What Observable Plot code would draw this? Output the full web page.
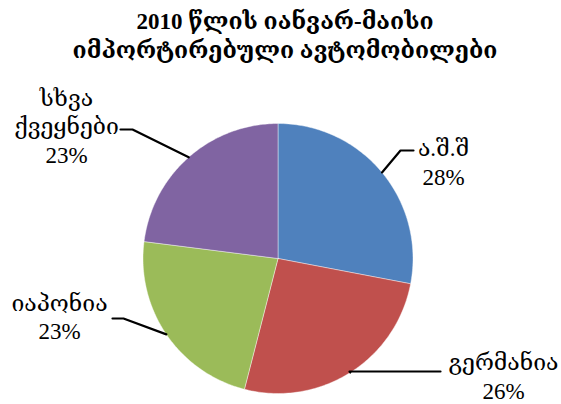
<!DOCTYPE html>
<html><head><meta charset="utf-8">
<script src="https://cdn.jsdelivr.net/npm/d3@7"></script>
<script src="https://cdn.jsdelivr.net/npm/@observablehq/plot@0.6"></script>
<style>
body{margin:0;background:#fff}
#chart svg{display:block}
</style>
</head><body><div id="chart"></div>
<script>
const titleLines = ["2010 წლის იანვარ-მაისი", "იმპორტირებული ავტომობილები"];
const categories = ["ა.შ.შ", "გერმანია", "იაპონია", "სხვა\nქვეყნები"];
const shares = [28, 26, 23, 23];
const colors = ["#4F81BD", "#C0504D", "#9BBB59", "#8064A2"];

// layout (pixels relative to the pie centre)
const R = 135;
const FONT = "'Liberation Serif', 'DejaVu Serif', 'DejaVu Sans', serif";
const elbows = [[122.5, -108], [71.5, 113], [-154.5, 60], [-145.5, -129]];
const ends = [[135.5, -108], [162.5, 113], [-165.5, 60], [-157.5, -129]];
const labelPos = [[165.5, -97], [225.5, 117], [-218.5, 57.5], [-211.5, -133]];

const arcs = d3.pie().sort(null).value(d => d)(shares);
const slicePts = [];
arcs.forEach((a, i) => {
  const name = categories[i];
  slicePts.push({name, x: 0, y: 0});
  const n = 90;
  for (let k = 0; k <= n; k++) {
    const t = a.startAngle + (a.endAngle - a.startAngle) * k / n;
    slicePts.push({name, x: R * Math.sin(t), y: -R * Math.cos(t)});
  }
  slicePts.push({name, x: 0, y: 0});
});

const leaders = [];
arcs.forEach((a, i) => {
  const m = (a.startAngle + a.endAngle) / 2;
  leaders.push({name: categories[i], x: R * Math.sin(m), y: -R * Math.cos(m)});
  leaders.push({name: categories[i], x: elbows[i][0], y: elbows[i][1]});
  leaders.push({name: categories[i], x: ends[i][0], y: ends[i][1]});
});

const labels = categories.map((c, i) => ({
  text: c + "\n" + shares[i] + "%",
  x: labelPos[i][0], y: labelPos[i][1]
}));

const chart = Plot.plot({
  width: 561, height: 404,
  margin: 0,
  style: {fontFamily: FONT, background: "white"},
  x: {domain: [-277.5, 283.5], axis: null},
  y: {domain: [-258, 146], reverse: true, axis: null},
  color: {domain: categories, range: colors},
  marks: [
    Plot.line(slicePts, {x: "x", y: "y", z: "name", fill: "name", stroke: "white", strokeWidth: 0.7, strokeOpacity: 0.6, curve: "linear"}),
    Plot.line(leaders, {x: "x", y: "y", z: "name", stroke: "black", strokeWidth: 2.2, curve: "linear"}),
    Plot.text(labels, {x: "x", y: "y", text: "text", fontSize: 23, fontFamily: FONT, lineHeight: 1.22, textAnchor: "middle", lineAnchor: "middle", fill: "black"}),
    Plot.text([titleLines.join("\n")], {frameAnchor: "top", dx: 4, dy: 8, fontSize: 23, fontFamily: FONT, fontWeight: "bold", lineHeight: 1.25, fill: "black"})
  ]
});
document.getElementById("chart").append(chart);
</script>
</body></html>
